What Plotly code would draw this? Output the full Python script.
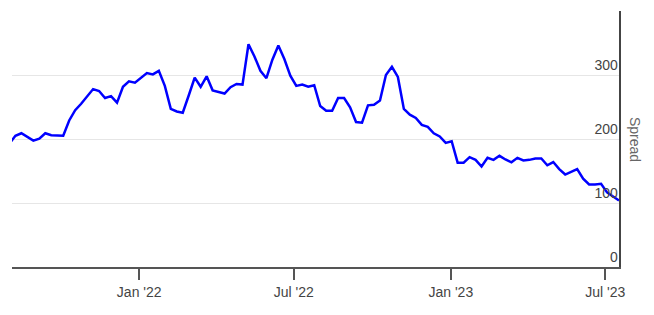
import pandas as pd
import plotly.graph_objects as go

# Weekly spread observations (Mondays), Aug 2021 – Jul 2023
start_date = "2021-08-02"
spread = [
    # 2021
    193, 205, 209, 203, 197.5,
    200.6, 209, 206, 205,
    205, 229, 245, 255,
    267, 278, 275, 264, 267,
    256.7, 281.6, 290, 288,
    # 2022
    296, 303, 301, 306.5, 283,
    247, 243, 241, 268,
    296, 281.6, 298, 276,
    274, 271, 281, 286,
    285, 348, 329, 306.5, 295,
    324, 346, 325, 299,
    283, 285, 281.6, 284,
    251.6, 244, 244, 264, 264,
    249.5, 226.6, 225.5, 252.6,
    253.6, 260, 300, 312.8, 297,
    247, 238, 233, 222,
    219, 209, 204, 194,
    # 2023
    196.6, 163, 163, 171.6, 167.4,
    157, 170.6, 167.4, 173.7,
    168, 163.5, 170.6, 166.4,
    167.4, 169.5, 169.5, 159,
    164, 153, 144.5, 148.8, 153,
    138, 129, 129, 130,
    116.5, 110, 104,
]
dates = pd.date_range(start_date, periods=len(spread), freq="7D")

x_range = ["2021-08-05", "2023-07-17"]
y_range = [0, 400]
y_ticks = [0, 100, 200, 300, 400]
x_ticks = ["2022-01-01", "2022-07-01", "2023-01-01", "2023-07-01"]
x_tick_labels = ["Jan '22", "Jul '22", "Jan '23", "Jul '23"]
axis_title = "Spread"

fig = go.Figure()
fig.add_trace(go.Scatter(
    x=dates, y=spread, mode="lines",
    line=dict(color="#0000ff", width=2.5),
    showlegend=False,
))
# empty helper trace: creates a separate subplot that carries the date ticks
fig.add_trace(go.Scatter(x=[], y=[], xaxis="x2", yaxis="y3",
                         showlegend=False, hoverinfo="skip"))

font_family = "Liberation Sans, Arial, sans-serif"

fig.update_layout(
    width=654, height=315,
    margin=dict(l=12, r=35, t=11, b=48),
    paper_bgcolor="white", plot_bgcolor="rgba(0,0,0,0)",
    font=dict(family=font_family, size=14, color="#444"),
    xaxis=dict(
        range=x_range, domain=[0, 1],
        showticklabels=False, ticks="",
        showgrid=False, zeroline=False,
        showline=True, linecolor="#555", linewidth=2,
    ),
    xaxis2=dict(
        range=x_range, domain=[0, 1], anchor="y3", type="date",
        tickmode="array", tickvals=x_ticks, ticktext=x_tick_labels,
        ticklabeloverflow="allow",
        showgrid=False, zeroline=False, showline=False,
        ticks="outside", ticklen=12, tickcolor="#555", tickwidth=1.5,
        tickfont=dict(size=14, color="#444"),
    ),
    yaxis=dict(
        range=y_range, side="right", domain=[0, 1],
        tickmode="array", tickvals=y_ticks,
        ticklabelposition="inside top",
        showgrid=True, gridcolor="#e6e6e6", gridwidth=1,
        zeroline=False,
        showline=True, linecolor="#444", linewidth=2,
        ticks="",
        tickfont=dict(size=14, color="#444"),
    ),
    yaxis3=dict(
        range=y_range, domain=[0, 1], anchor="x2", visible=False,
    ),
    annotations=[dict(
        text=axis_title, textangle=90,
        xref="paper", yref="paper", x=1, y=0.5,
        xanchor="left", yanchor="middle", xshift=6,
        showarrow=False,
        font=dict(size=14, color="#666", family=font_family),
    )],
)

fig.write_html("out.html")
